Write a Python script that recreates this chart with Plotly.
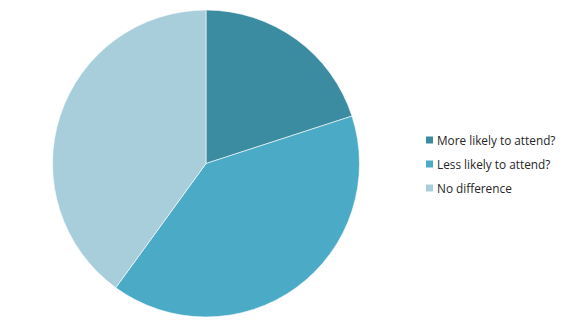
import plotly.graph_objects as go

labels = ["More likely to attend?", "Less likely to attend?", "No difference"]
values = [20, 40, 40]
colors = ["#3B8BA1", "#4BABC6", "#A8CEDB"]

W, H = 564, 327
fig = go.Figure(go.Pie(
    labels=labels, values=values, sort=False, direction="clockwise", rotation=0,
    marker=dict(colors=colors, line=dict(color="white", width=0.6)),
    textinfo="none", hoverinfo="label+percent",
    domain=dict(x=[52 / W, 360 / W], y=[10 / H, 317 / H]),
))

# legend drawn to match the reference layout (small squares, tight text gap)
leg_x0, leg_y0, leg_dy, sq = 426, 140, 24, 7
shapes, annotations = [], []
for i, (lab, col) in enumerate(zip(labels, colors)):
    yc = leg_y0 + i * leg_dy
    shapes.append(dict(type="rect", xref="paper", yref="paper",
                       x0=leg_x0 / W, x1=(leg_x0 + sq) / W,
                       y0=1 - (yc + sq / 2) / H, y1=1 - (yc - sq / 2) / H,
                       fillcolor=col, line=dict(width=0)))
    annotations.append(dict(text=lab, xref="paper", yref="paper",
                            x=(leg_x0 + sq + 2) / W, y=1 - yc / H,
                            xanchor="left", yanchor="middle", showarrow=False,
                            font=dict(family="Open Sans", size=11.8, color="#262626")))

fig.update_layout(
    width=W, height=H, margin=dict(l=0, r=0, t=0, b=0),
    paper_bgcolor="white", plot_bgcolor="white",
    showlegend=False, shapes=shapes, annotations=annotations,
)
fig.write_html("out.html")
